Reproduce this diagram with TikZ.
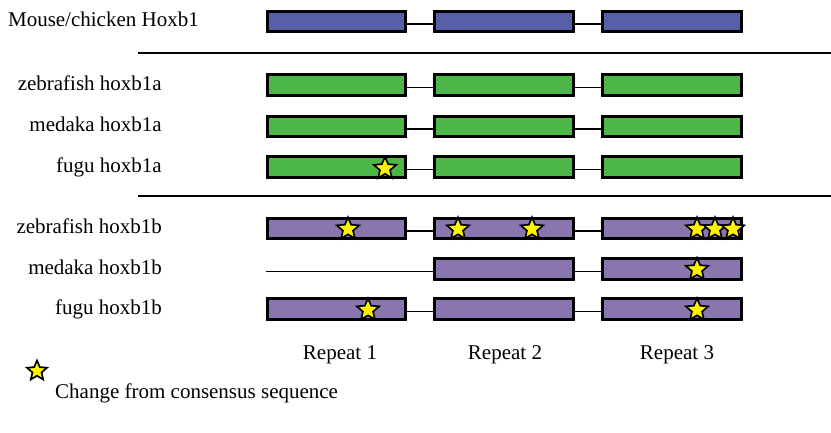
\documentclass[tikz,border=0pt]{standalone}
\usepackage{fontspec}
\setmainfont{Liberation Serif}
\usetikzlibrary{shapes.geometric}
\definecolor{hblue}{HTML}{5560A8}
\definecolor{hgreen}{HTML}{4DB649}
\definecolor{hpurple}{HTML}{8A76AE}
\definecolor{hyellow}{HTML}{FFF200}
\tikzset{
  exon/.style={draw=black, line width=2.7pt, minimum width=138.5pt, minimum height=20.5pt, inner sep=0pt},
  conn/.style={line width=1.8pt},
  sepline/.style={line width=2.2pt},
  lbl/.style={font=\fontsize{21}{25}\selectfont, inner sep=0pt},
  mystar/.style={star, star points=5, star point ratio=2.2, draw=black, fill=hyellow, line width=1.7pt, minimum size=23.5pt, inner sep=0pt},
}
\begin{document}
\begin{tikzpicture}[x=1pt,y=-1pt]
\useasboundingbox (0,0) rectangle (831,433);
% rows with three exons
\foreach \n/\y/\c in {m/21.5/hblue, za/85/hgreen, ma/126.5/hgreen, fa/167/hgreen, zb/228.5/hpurple, fb/309/hpurple}{
  \node[exon, fill=\c] (\n1) at (336.5,\y) {};
  \node[exon, fill=\c] (\n2) at (504,\y) {};
  \node[exon, fill=\c] (\n3) at (672,\y) {};
  \draw[conn] ([yshift=-2.5pt]\n1.east) -- ([yshift=-2.5pt]\n2.west);
  \draw[conn] ([yshift=-2.5pt]\n2.east) -- ([yshift=-2.5pt]\n3.west);
}
% medaka hoxb1b: repeat 1 missing
\node[exon, fill=hpurple] (mb2) at (504,269) {};
\node[exon, fill=hpurple] (mb3) at (672,269) {};
\coordinate (mbstart) at (266,271.5);
\draw[conn] (mbstart) -- ([yshift=-2.5pt]mb2.west);
\draw[conn] ([yshift=-2.5pt]mb2.east) -- ([yshift=-2.5pt]mb3.west);
% separators
\coordinate (sa1) at (138,53);
\coordinate (sa2) at (831,53);
\coordinate (sb1) at (138,196);
\coordinate (sb2) at (831,196);
\draw[sepline] (sa1) -- (sa2);
\draw[sepline] (sb1) -- (sb2);
% labels
\node[lbl, anchor=base east] (lm) at (199,27) {Mouse/chicken Hoxb1};
\node[lbl, anchor=base east] (lza) at (162,90.5) {zebrafish hoxb1a};
\node[lbl, anchor=base east] (lma) at (162,132) {medaka hoxb1a};
\node[lbl, anchor=base east] (lfa) at (162,172.5) {fugu hoxb1a};
\node[lbl, anchor=base east] (lzb) at (162,234) {zebrafish hoxb1b};
\node[lbl, anchor=base east] (lmb) at (162,274.5) {medaka hoxb1b};
\node[lbl, anchor=base east] (lfb) at (162,314.5) {fugu hoxb1b};
% repeat labels
\node[lbl, anchor=base] (r1) at (340,359) {Repeat 1};
\node[lbl, anchor=base] (r2) at (505,359) {Repeat 2};
\node[lbl, anchor=base] (r3) at (677,359) {Repeat 3};
% stars
\node[mystar] (st1) at (385,168.5) {};
\node[mystar] (st2) at (348,229) {};
\node[mystar] (st3) at (458,229) {};
\node[mystar] (st4) at (532,229) {};
\node[mystar] (st5) at (697,229) {};
\node[mystar] (st6) at (715,229) {};
\node[mystar] (st7) at (733,229) {};
\node[mystar] (st8) at (697,269.5) {};
\node[mystar] (st9) at (368,310) {};
\node[mystar] (st10) at (697,310) {};
% legend
\node[mystar, minimum size=21pt] (lgs) at (37,371) {};
\node[lbl, anchor=base west] (lgt) at (55,398) {Change from consensus sequence};
\end{tikzpicture}
\end{document}
